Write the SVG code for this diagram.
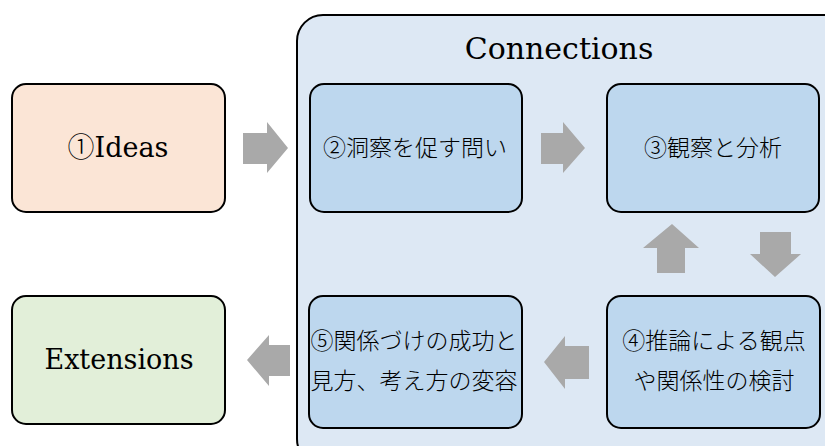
<svg xmlns="http://www.w3.org/2000/svg" width="825" height="446" viewBox="0 0 825 446">
<style>
.box{stroke:#000;stroke-width:2}
.inner{fill:#bdd7ee;stroke:#000;stroke-width:2}
.lat{font-family:'DejaVu Serif','Liberation Serif',serif;font-size:27px;fill:#000;text-anchor:middle}
.jp{font-family:'Noto Sans CJK JP',sans-serif;font-size:23px;font-weight:300;fill:#000;text-anchor:middle}
.circ{font-family:'Noto Sans CJK JP',sans-serif;font-weight:300}
.arr{fill:#a9a9a9}
</style>
<rect width="825" height="446" fill="#fff"/>
<g id="connections-group">
<rect class="box" x="297" y="15" width="560" height="450" rx="26" fill="#dde8f4"/>
<text class="lat" x="559" y="59" style="font-size:30px">Connections</text>
</g>
<g id="ideas">
<rect class="box" x="12" y="84" width="213" height="128" rx="14" fill="#fbe5d6"/>
<text class="lat" x="118" y="157"><tspan class="circ">①</tspan>Ideas</text>
</g>
<g id="extensions">
<rect class="box" x="12" y="296" width="213" height="128" rx="14" fill="#e2efd9"/>
<text class="lat" x="119" y="369">Extensions</text>
</g>
<g id="n2">
<rect class="inner" x="310" y="84" width="212" height="128" rx="14"/>
<text class="jp" x="415" y="156">②洞察を促す問い</text>
</g>
<g id="n3">
<rect class="inner" x="607" y="84" width="212" height="128" rx="14"/>
<text class="jp" x="713" y="156">③観察と分析</text>
</g>
<g id="n4">
<rect class="inner" x="607" y="296" width="213" height="132" rx="14"/>
<text class="jp" x="714" y="349">④推論による観点</text>
<text class="jp" x="714" y="389">や関係性の検討</text>
</g>
<g id="n5">
<rect class="inner" x="309" y="296" width="213" height="132" rx="14"/>
<text class="jp" x="414" y="349">⑤関係づけの成功と</text>
<text class="jp" x="414" y="389">見方、考え方の変容</text>
</g>
<g id="connectors">
<polygon class="arr" points="243,133 267,133 267,122 288,148 267,173 267,164 243,164"/>
<polygon class="arr" points="541,133 563,133 563,122 585,148 563,173 563,164 541,164"/>
<polygon class="arr" points="657,273 685,273 685,248 699,248 672,224 643,248 657,248"/>
<polygon class="arr" points="760,232 791,232 791,254 801,254 775,277 750,254 760,254"/>
<polygon class="arr" points="589,346 565,346 565,336 544,362 565,389 565,379 589,379"/>
<polygon class="arr" points="290,345 269,345 269,335 247,360 269,386 269,376 290,376"/>
</g>
</svg>
